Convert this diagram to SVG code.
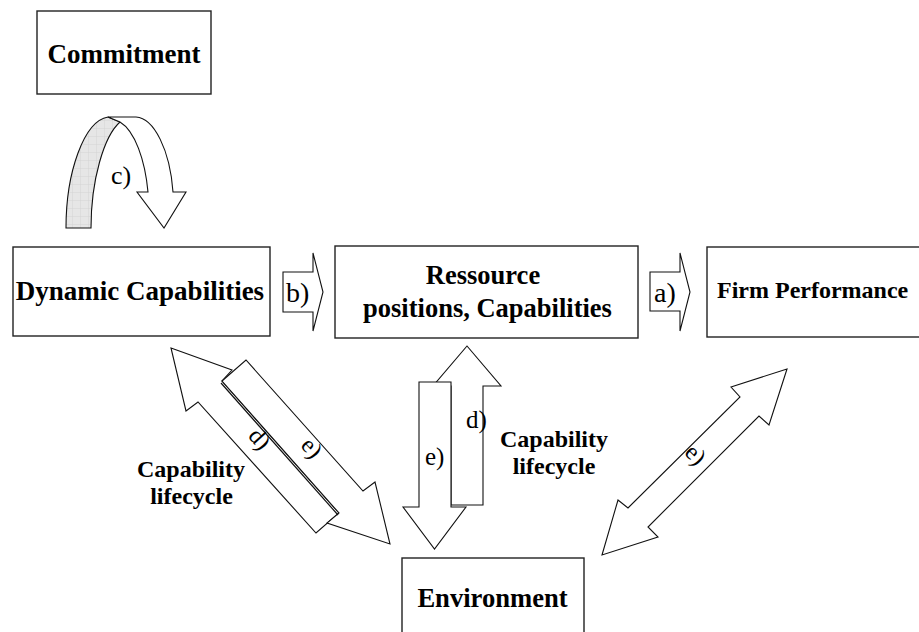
<svg xmlns="http://www.w3.org/2000/svg" width="919" height="632" viewBox="0 0 919 632">
<defs>
<pattern id="grid" width="8" height="8" patternUnits="userSpaceOnUse">
<rect width="8" height="8" fill="#e6e6e6"/>
<path d="M0,0H8M0,0V8" stroke="#cfcfcf" stroke-width="0.8" fill="none"/>
</pattern>
</defs>
<style>
.box{fill:#fff;stroke:#222;stroke-width:1.4}
.arr{fill:#fff;stroke:#111;stroke-width:1.1;stroke-linejoin:miter}
text{fill:#000;font-family:"Liberation Serif","Times New Roman",serif}
.t{font-weight:bold}
</style>
<rect width="919" height="632" fill="#fff"/>

<g id="commitment">
<rect class="box" x="37" y="11" width="174" height="83"/>
<text class="t" x="124" y="63" font-size="27" text-anchor="middle">Commitment</text>
</g>

<g id="dynamic-capabilities">
<rect class="box" x="13" y="247" width="257" height="89"/>
<text class="t" x="140" y="300" font-size="27" text-anchor="middle">Dynamic Capabilities</text>
</g>

<g id="resource-positions">
<rect class="box" x="335" y="246" width="303" height="92"/>
<text class="t" x="483" y="284" font-size="26.5" text-anchor="middle">Ressource</text>
<text class="t" x="487.5" y="317" font-size="26.5" text-anchor="middle">positions, Capabilities</text>
</g>

<g id="firm-performance">
<rect class="box" x="707" y="247" width="230" height="90"/>
<text class="t" x="717" y="298" font-size="24">Firm Performance</text>
</g>

<g id="environment">
<rect class="box" x="402" y="558" width="182" height="90"/>
<text class="t" x="492.5" y="607" font-size="26.6" text-anchor="middle">Environment</text>
</g>

<g id="connectors">
<!-- c) curved arrow -->
<path d="M66,228 C66,172 84,121 108,117 L120,122 C104,136 91,180 91,228 Z" fill="url(#grid)" stroke="#111" stroke-width="1.1"/>
<path class="arr" d="M108,117 L136,117 C154,118 170,150 173,192 L186,192 L164,228 L137,192 L148,192 C145,160 135,131 120,122 Z"/>
<text x="111" y="184" font-size="26">c)</text>

<!-- b) -->
<path class="arr" d="M283,272 L313,272 L313,253 L323,292 L313,331 L313,312 L283,312 Z"/>
<text x="286" y="302" font-size="28">b)</text>

<!-- a) -->
<path class="arr" d="M650,272 L680,272 L680,253 L690,292 L680,331 L680,311 L650,311 Z"/>
<text x="654" y="302" font-size="28">a)</text>

<!-- left diagonal double arrow -->
<path class="arr" d="M171,348 L232,370 L222,381 L339,513 L316,533 L198,402 L186,411 Z"/>
<path class="arr" d="M222,381 L246,360 L363,491 L375,482 L390,544 L327,523 L339,513 Z"/>
<line x1="221" y1="383" x2="338" y2="515" stroke="#111" stroke-width="1.2"/>
<text font-size="24" text-anchor="middle" transform="translate(254,444) rotate(48)">d)</text>
<text font-size="24" text-anchor="middle" transform="translate(306,453) rotate(48)">e)</text>

<!-- vertical arrows -->
<path class="arr" d="M467,346 L501,386 L483,386 L483,505 L451,505 L451,386 L433,386 Z"/>
<path class="arr" d="M419,382 L451,382 L451,507 L466,507 L434.5,549 L403,507 L419,507 Z"/>
<text x="466" y="428" font-size="25">d)</text>
<text x="425" y="465" font-size="25">e)</text>

<!-- right diagonal double arrow -->
<path class="arr" d="M787,369 L731,387 L740,397 L628,508 L618,500 L602,555 L658,537 L648,527 L759,416 L769,425 Z"/>
<text font-size="24" text-anchor="middle" transform="translate(690,460) rotate(45)">e)</text>

<!-- labels -->
<text class="t" x="191" y="477" font-size="24" text-anchor="middle">Capability</text>
<text class="t" x="191.5" y="504" font-size="24" text-anchor="middle">lifecycle</text>
<text class="t" x="554" y="447" font-size="24" text-anchor="middle">Capability</text>
<text class="t" x="554" y="474" font-size="24" text-anchor="middle">lifecycle</text>
</g>
</svg>
